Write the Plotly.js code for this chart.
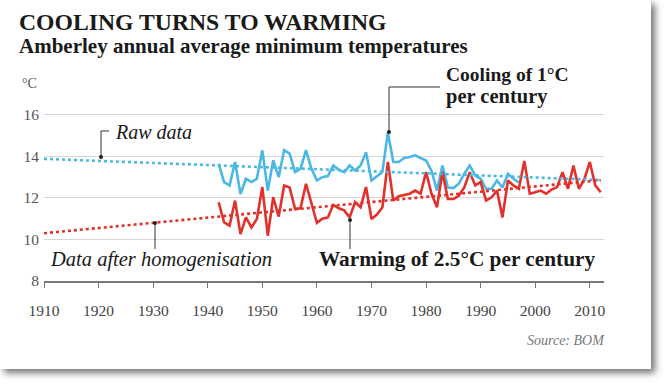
<!DOCTYPE html>
<html>
<head>
<meta charset="utf-8">
<script src="https://cdn.plot.ly/plotly-3.0.1.min.js"></script>
<style>
  html, body { margin: 0; padding: 0; background: #ffffff; }
  #card { position: absolute; left: 0; top: 0; width: 651px; height: 369px; background: #ffffff;
          box-shadow: 4px 4px 7px rgba(0,0,0,0.55); }
  #chart { position: absolute; left: 0; top: 0; width: 664px; height: 384px; }
</style>
</head>
<body>
<div id="card"></div>
<div id="chart"></div>
<script>
// ---- data ----
const rawYears = [1942,1943,1944,1945,1946,1947,1948,1949,1950,1951,1952,1953,1954,1955,1956,1957,1958,1959,
  1960,1961,1962,1963,1964,1965,1966,1967,1968,1969,1970,1971,1972,1973,1974,1975,1976,1977,1978,1979,
  1980,1981,1982,1983,1984,1985,1986,1987,1988,1989,1990,1991,1992,1993,1994,1995,1996,1997];
const rawTemps = [13.65,12.76,12.6,13.73,12.19,12.92,12.76,12.92,14.29,12.35,13.81,13.0,14.3,14.13,13.24,13.4,14.3,13.4,
  12.84,13.0,13.05,13.56,13.35,13.24,13.56,13.32,13.56,14.2,12.84,13.05,13.24,15.15,13.73,13.73,13.92,13.97,14.05,13.92,
  13.8,13.3,12.35,13.56,12.5,12.47,12.68,13.16,13.56,13.08,12.92,12.44,12.44,12.84,12.5,13.16,12.92,12.75];

const homYears = [1942,1943,1944,1945,1946,1947,1948,1949,1950,1951,1952,1953,1954,1955,1956,1957,1958,1959,
  1960,1961,1962,1963,1964,1965,1966,1967,1968,1969,1970,1971,1972,1973,1974,1975,1976,1977,1978,1979,
  1980,1981,1982,1983,1984,1985,1986,1987,1988,1989,1990,1991,1992,1993,1994,1995,1996,1997,1998,1999,
  2000,2001,2002,2003,2004,2005,2006,2007,2008,2009,2010,2011,2012];
const homTemps = [11.79,10.82,10.66,11.87,10.26,11.06,10.58,10.98,12.52,10.18,12.03,11.1,12.6,12.5,11.47,11.5,12.68,11.8,
  10.8,11.0,11.06,11.66,11.5,11.4,11.06,11.8,11.55,12.52,10.98,11.2,11.55,13.73,11.87,12.08,12.15,12.2,12.35,12.2,
  13.24,12.2,11.55,13.24,11.95,11.95,12.1,12.5,13.24,12.6,12.76,11.87,12.03,12.35,11.06,12.84,12.6,12.44,13.78,12.2,
  12.27,12.35,12.2,12.4,12.52,13.24,12.44,13.56,12.44,12.9,13.73,12.6,12.27];

const trendYears = [1910, 2012];
const rawTrend = [13.88, 12.86];
const homTrend = [10.3, 12.85];

const xTickVals = [1910,1920,1930,1940,1950,1960,1970,1980,1990,2000,2010];
const xTickText = ['1910','1920','1930','1940','1950','1960','1970','1980','1990','2000','2010'];
const yTickVals = [8,10,12,14,16];
const yTickText = ['8','10','12','14','16'];

// ---- styling ----
const BLUE = '#4bb8e4';
const RED = '#e2302a';
const SERIF = '"Liberation Serif", "DejaVu Serif", serif';

// layout geometry (pixels)
const L = 44, R = 60, T = 94, B = 103, W = 664, H = 384;
const PW = W - L - R, PH = H - T - B;
const px = x => (x - L) / PW;
const py = y => (H - B - y) / PH;

const traces = [
  { x: rawYears, y: rawTemps, type: 'scatter', mode: 'lines', line: { color: BLUE, width: 2.6 }, hoverinfo: 'skip' },
  { x: homYears, y: homTemps, type: 'scatter', mode: 'lines', line: { color: RED, width: 2.6 }, hoverinfo: 'skip' },
  { x: trendYears, y: rawTrend, type: 'scatter', mode: 'lines', line: { color: BLUE, width: 2.6, dash: 'dot' }, hoverinfo: 'skip' },
  { x: trendYears, y: homTrend, type: 'scatter', mode: 'lines', line: { color: RED, width: 2.6, dash: 'dot' }, hoverinfo: 'skip' }
];

function txt(x, y, text, size, opts) {
  return Object.assign({
    xref: 'paper', yref: 'paper', x: px(x), y: py(y), text: text, showarrow: false,
    xanchor: 'left', yanchor: 'middle',
    font: { family: SERIF, size: size, color: '#1a1a1a' }
  }, opts || {});
}

const annotations = [
  txt(17, 22, '<b>COOLING TURNS TO WARMING</b>', 23.7),
  txt(17, 46, '<b>Amberley annual average minimum temperatures</b>', 21),
  txt(20, 83, '°C', 14, { font: { family: SERIF, size: 14, color: '#555' } }),
  txt(113, 132, '<i>Raw data</i>', 20),
  txt(444, 74, '<b>Cooling of 1°C</b>', 19.5),
  txt(444, 96, '<b>per century</b>', 20.5),
  txt(48, 259, '<i>Data after homogenisation</i>', 20.5),
  txt(317, 259, '<b>Warming of 2.5°C per century</b>', 21.3),
  txt(607, 340, '<i>Source: BOM</i>', 14, { xanchor: 'right', font: { family: SERIF, size: 14, color: '#777' } })
];

const LC = '#333';
function dot(xv, yv) {
  return { type: 'circle', xref: 'x', yref: 'y', xsizemode: 'pixel', ysizemode: 'pixel',
    xanchor: xv, yanchor: yv, x0: -2, x1: 2, y0: -2, y1: 2,
    fillcolor: '#222', line: { width: 0 } };
}
const yearAt = x => 1910 + (x - L) / PW * 102.6;
const valAt = y => 8 + (H - B - y) / PH * 9;

const shapes = [
  // Raw data connector
  { type: 'path', xref: 'paper', yref: 'paper',
    path: `M ${px(101)} ${py(157)} L ${px(101)} ${py(131)} L ${px(109)} ${py(131)}`,
    line: { color: LC, width: 1 } },
  dot(yearAt(101), valAt(157)),
  // Data after homogenisation connector
  { type: 'line', xref: 'paper', yref: 'paper', x0: px(155), x1: px(155), y0: py(223), y1: py(249), line: { color: LC, width: 1 } },
  dot(yearAt(155), valAt(223)),
  // Warming connector
  { type: 'line', xref: 'paper', yref: 'paper', x0: px(350), x1: px(350), y0: py(220), y1: py(249), line: { color: LC, width: 1 } },
  dot(yearAt(350), valAt(220)),
  // Cooling connector
  { type: 'path', xref: 'paper', yref: 'paper',
    path: `M ${px(389)} ${py(132)} L ${px(389)} ${py(87)} L ${px(440)} ${py(87)}`,
    line: { color: LC, width: 1 } },
  dot(yearAt(389), valAt(132))
];

const layout = {
  width: W, height: H,
  margin: { l: L, r: R, t: T, b: B, pad: 0 },
  paper_bgcolor: 'rgba(0,0,0,0)',
  plot_bgcolor: 'rgba(0,0,0,0)',
  showlegend: false,
  xaxis: {
    range: [1910, 2012.6], tickvals: xTickVals, ticktext: xTickText,
    showgrid: false, zeroline: false, showline: true, linecolor: '#777', linewidth: 1.5,
    ticks: 'outside', ticklen: 5, tickcolor: '#777', tickwidth: 1,
    ticklabelstandoff: 10,
    tickfont: { family: SERIF, size: 15.5, color: '#444' }, fixedrange: true
  },
  yaxis: {
    range: [8, 17], tickvals: yTickVals, ticktext: yTickText,
    showgrid: true, gridcolor: '#d6d6d6', gridwidth: 1.2, zeroline: false, showline: false,
    ticks: '', ticklabelstandoff: 4,
    tickfont: { family: SERIF, size: 15.5, color: '#555' }, fixedrange: true
  },
  annotations: annotations,
  shapes: shapes
};

Plotly.newPlot('chart', traces, layout, { displayModeBar: false, staticPlot: true });
</script>
</body>
</html>
